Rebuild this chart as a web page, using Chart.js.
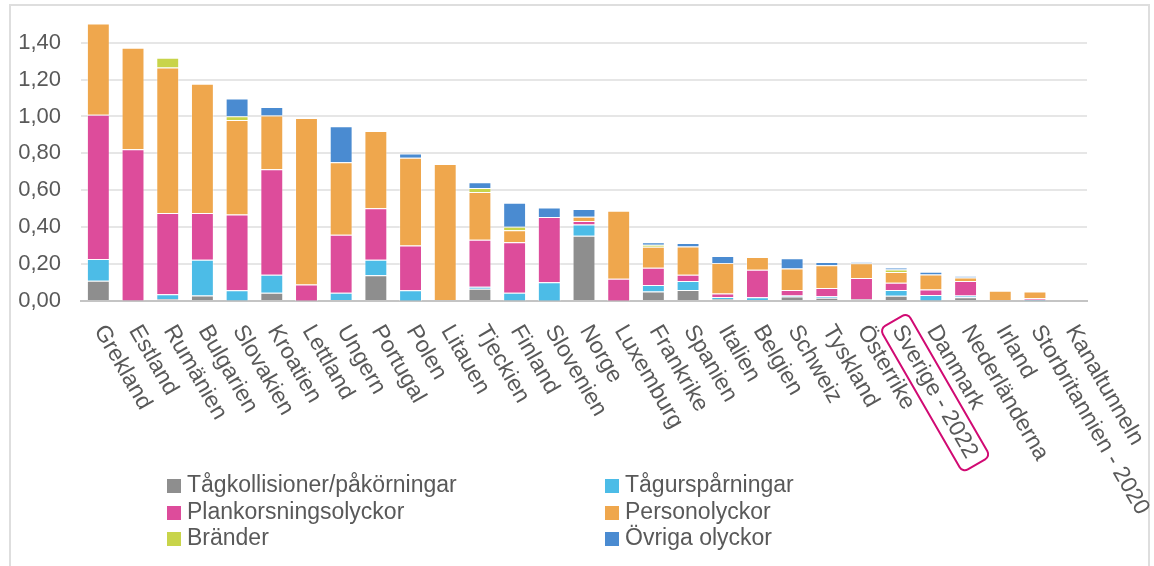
<!DOCTYPE html>
<html>
<head>
<meta charset="utf-8">
<script src="https://cdn.jsdelivr.net/npm/chart.js@4/dist/chart.umd.min.js"></script>
<style>
  html, body { margin: 0; padding: 0; background: #fff; overflow: hidden; }
  #wrap { position: relative; width: 1154px; height: 566px; }
  #frame { position: absolute; left: 9px; top: 4px; width: 1141px; height: 620px; border: 2px solid #dedede; box-sizing: border-box; }
  #chart { position: absolute; left: 0; top: 0; }
  #legend { position: absolute; left: 0; top: 0; font-family: "Liberation Sans", Arial, sans-serif; font-size: 23px; color: #595959; }
  .item { position: absolute; white-space: nowrap; line-height: 26px; }
  .item span.box { display: inline-block; width: 14px; height: 14px; margin-right: 6px; vertical-align: -1px; }
</style>
</head>
<body>
<div id="wrap">
  <div id="frame"></div>
  <canvas id="chart" width="1154" height="566"></canvas>
  <div id="legend"></div>
</div>
<script>
// data
const categories = ['Grekland', 'Estland', 'Rumänien', 'Bulgarien', 'Slovakien', 'Kroatien', 'Lettland',
    'Ungern', 'Portugal', 'Polen', 'Litauen', 'Tjeckien', 'Finland', 'Slovenien', 'Norge', 'Luxemburg',
    'Frankrike', 'Spanien', 'Italien', 'Belgien', 'Schweiz', 'Tyskland', 'Österrike', 'Sverige - 2022',
    'Danmark', 'Nederländerna', 'Irland', 'Storbritannien - 2020', 'Kanaltunneln'];

const tagkollisioner = [0.110, 0.003, 0.010, 0.030, 0.003, 0.045, 0.002, 0.005, 0.139, 0.002, 0, 0.067, 0.003, 0.002,
    0.353, 0.002, 0.052, 0.060, 0.011, 0.005, 0.025, 0.017, 0.010, 0.029, 0.003, 0.020, 0, 0.003, 0];
const tagurspar = [0.117, 0, 0.027, 0.193, 0.055, 0.097, 0, 0.040, 0.085, 0.056, 0, 0.010, 0.042, 0.099,
    0.062, 0, 0.035, 0.048, 0.011, 0.015, 0.005, 0.009, 0, 0.031, 0.030, 0.010, 0, 0.004, 0];
const plankorsning = [0.783, 0.820, 0.440, 0.254, 0.411, 0.572, 0.088, 0.314, 0.278, 0.243, 0, 0.255, 0.273, 0.354,
    0.019, 0.119, 0.093, 0.034, 0.018, 0.149, 0.030, 0.045, 0.115, 0.039, 0.030, 0.078, 0, 0.008, 0];
const personolyckor = [0.494, 0.550, 0.788, 0.700, 0.512, 0.291, 0.902, 0.393, 0.420, 0.475, 0.743, 0.259, 0.065, 0,
    0.022, 0.368, 0.114, 0.154, 0.166, 0.069, 0.116, 0.123, 0.079, 0.058, 0.080, 0.020, 0.056, 0.037, 0];
const brander = [0, 0, 0.053, 0, 0.020, 0, 0, 0, 0, 0, 0, 0.022, 0.020, 0,
    0, 0, 0.011, 0, 0, 0, 0, 0, 0, 0.014, 0, 0, 0, 0, 0];
const ovriga = [0, 0, 0, 0, 0.097, 0.046, 0, 0.195, 0, 0.023, 0, 0.031, 0.129, 0.052,
    0.042, 0, 0.014, 0.019, 0.038, 0, 0.056, 0.018, 0.006, 0.011, 0.015, 0.006, 0, 0, 0];

const seriesNames = ['Tågkollisioner/påkörningar', 'Tågurspårningar', 'Plankorsningsolyckor',
    'Personolyckor', 'Bränder', 'Övriga olyckor'];
const seriesColors = ['#8e8e8e', '#4cbce7', '#dd4c9b', '#efa74d', '#c8d44a', '#4a8bd1'];
const yTicks = [0, 0.2, 0.4, 0.6, 0.8, 1.0, 1.2, 1.4];
const highlighted = 'Sverige - 2022';

const FONT = '"Liberation Sans", Arial, sans-serif';
const TEXT = '#595959';

// x labels are turned clockwise (text starts at the tick), so draw them here
const rotatedLabels = {
    id: 'rotatedLabels',
    afterDraw(chart) {
        const x = chart.scales.x;
        const ctx = chart.ctx;
        const ang = 60 * Math.PI / 180;
        ctx.save();
        ctx.font = '23px ' + FONT;
        ctx.fillStyle = TEXT;
        ctx.textAlign = 'left';
        ctx.textBaseline = 'middle';
        x.ticks.forEach(function(t, i) {
            const label = chart.data.labels[i];
            ctx.save();
            ctx.translate(x.getPixelForTick(i) + 1, x.top + 26);
            ctx.rotate(ang);
            ctx.fillText(label, 0, 0);
            if (label === highlighted) {
                const w = ctx.measureText(label).width;
                ctx.strokeStyle = '#d10a73';
                ctx.lineWidth = 2;
                ctx.beginPath();
                ctx.roundRect(-7, -16, w + 16, 32, 6);
                ctx.stroke();
            }
            ctx.restore();
        });
        ctx.restore();
    }
};

const seriesData = [tagkollisioner, tagurspar, plankorsning, personolyckor, brander, ovriga];

const chart = new Chart(document.getElementById('chart'), {
    type: 'bar',
    data: {
        labels: categories,
        datasets: seriesData.map(function(d, i) {
            return {
                label: seriesNames[i],
                data: d,
                backgroundColor: seriesColors[i],
                borderColor: 'rgba(255,255,255,0.35)',
                borderWidth: 1,
                barPercentage: 0.66,
                categoryPercentage: 1
            };
        })
    },
    options: {
        responsive: false,
        devicePixelRatio: 1,
        animation: false,
        layout: { padding: { top: 15, right: 67, bottom: 0, left: 0 } },
        plugins: {
            legend: { display: false },
            tooltip: { enabled: false }
        },
        scales: {
            x: {
                stacked: true,
                grid: { display: false },
                border: { display: true, color: '#c4c4c4', width: 2 },
                ticks: { display: false },
                afterFit: function(s) { s.height = 265; }
            },
            y: {
                stacked: true,
                min: 0,
                max: 1.55,
                afterFit: function(s) {
                    s.width = 81;
                    s.paddingTop = 0;
                    s.paddingBottom = 0;
                },
                afterBuildTicks: function(s) { s.ticks = yTicks.map(v => ({ value: v })); },
                border: { display: false },
                grid: {
                    drawTicks: false,
                    color: ctx => ctx.tick && ctx.tick.value === 0 ? '#c4c4c4' : '#e6e6e6',
                    lineWidth: 2
                },
                ticks: {
                    padding: 20,
                    color: TEXT,
                    font: { family: FONT, size: 22 },
                    callback: v => v.toFixed(2).replace('.', ',')
                }
            }
        }
    },
    plugins: [rotatedLabels]
});

// legend in two columns, three rows
const legend = document.getElementById('legend');
const colX = [167, 605];
const rowY = [471, 498, 524];
chart.data.datasets.forEach(function(ds, i) {
    const el = document.createElement('div');
    el.className = 'item';
    el.style.left = colX[i % 2] + 'px';
    el.style.top = rowY[Math.floor(i / 2)] + 'px';
    const box = document.createElement('span');
    box.className = 'box';
    box.style.background = ds.backgroundColor;
    el.appendChild(box);
    el.appendChild(document.createTextNode(ds.label));
    legend.appendChild(el);
});
</script>
</body>
</html>
